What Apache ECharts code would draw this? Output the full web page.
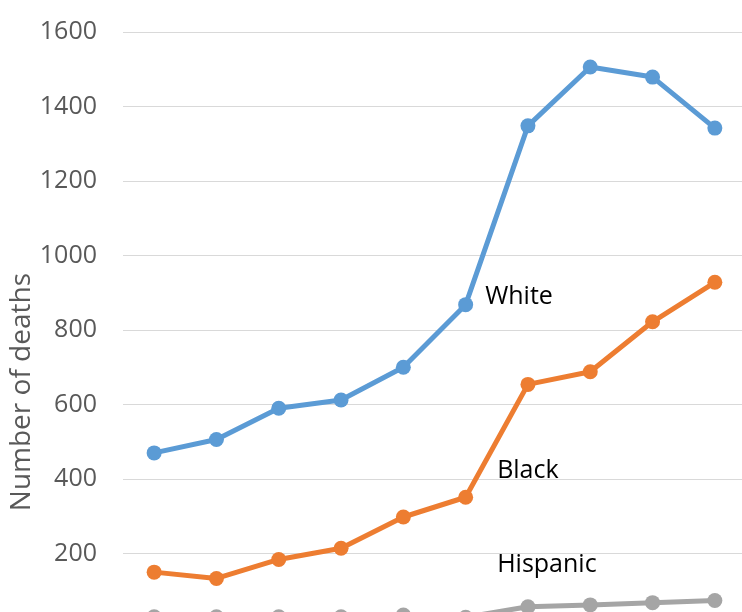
<!DOCTYPE html>
<html>
<head>
<meta charset="utf-8">
<title></title>
<script src="https://cdn.jsdelivr.net/npm/echarts@6/dist/echarts.min.js"></script>
<style>
*{ padding:0; margin:0; }
#chart{ width:742px; height:612px; background:#fff; }
</style>
</head>
<body>
<div id="chart"></div>
<script>
// categories (the x axis labels are cut off in the reference)
var years = ['1', '2', '3', '4', '5', '6', '7', '8', '9', '10'];
var white = [470, 506, 590, 612, 700, 868, 1348, 1506, 1479, 1342];
var black = [150, 133, 184, 214, 298, 351, 654, 688, 822, 928];
var hispanic = [30, 30, 30, 30, 35, 29, 57, 62, 68, 74];
var yTicks = [0, 200, 400, 600, 800, 1000, 1200, 1400, 1600];

var labelFont = { fontFamily: 'Open Sans', fontSize: 25, color: '#000' };

function withLabel(arr, idx, text, offset) {
    return arr.map(function (v, i) {
        if (i !== idx) return v;
        return {
            value: v,
            label: Object.assign({
                show: true, position: 'right', offset: offset,
                formatter: text
            }, labelFont)
        };
    });
}

function line(name, color, data) {
    return {
        name: name,
        type: 'line',
        data: data,
        symbol: 'circle',
        symbolSize: 15,
        lineStyle: { color: color, width: 5 },
        itemStyle: { color: color },
        animation: false,
        z: name == 'White' ? 3 : 2
    };
}

var chart = echarts.init(document.getElementById('chart'));
chart.setOption({
    grid: { left: 123, right: -4, top: 32, bottom: -16, outerBoundsMode: 'none' },
    xAxis: {
        type: 'category',
        data: years,
        boundaryGap: true,
        axisLine: { show: false },
        axisTick: { show: false },
        axisLabel: { show: false }
    },
    yAxis: {
        type: 'value',
        min: yTicks[0],
        max: yTicks[yTicks.length - 1],
        interval: 200,
        axisLabel: {
            fontFamily: 'Open Sans', fontSize: 25, color: '#595959', margin: 26,
            formatter: function (v) { return String(v); }
        },
        splitLine: { lineStyle: { color: '#d9d9d9', width: 1 } },
        axisLine: { show: false },
        axisTick: { show: false }
    },
    graphic: [{
        type: 'text',
        left: 8,
        top: 273,
        rotation: Math.PI / 2,
        style: {
            text: 'Number of deaths',
            font: '28px "Open Sans"',
            fill: '#595959'
        }
    }],
    series: [
        line('White', '#5b9bd5', withLabel(white, 5, 'White', [7, -8])),
        line('Black', '#ed7d31', withLabel(black, 5, 'Black', [19, -26])),
        line('Hispanic', '#a5a5a5', withLabel(hispanic, 5, 'Hispanic', [19, -52]))
    ]
});
</script>
</body>
</html>
